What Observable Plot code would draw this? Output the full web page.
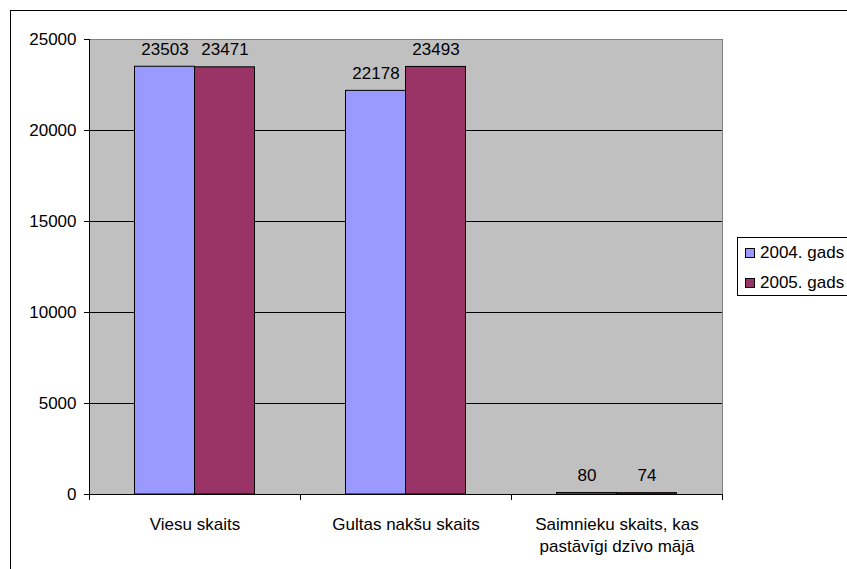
<!DOCTYPE html>
<html>
<head>
<meta charset="utf-8">
<script src="https://cdn.jsdelivr.net/npm/d3@7"></script>
<script src="https://cdn.jsdelivr.net/npm/@observablehq/plot@0.6"></script>
<style>
  html, body { margin: 0; padding: 0; background: #fff; overflow: hidden; }
  #wrap { position: relative; width: 847px; height: 569px; overflow: hidden; font-family: "Liberation Sans", Arial, sans-serif; }
  #frame { position: absolute; left: 10px; top: 10px; width: 900px; height: 700px; border: 1px solid #000; box-sizing: border-box; }
  #chart { position: absolute; left: 0; top: 0; }
  #legend { position: absolute; left: 737px; top: 237px; width: 130px; height: 59px; border: 1px solid #000; background: #fff; box-sizing: border-box; font-size: 17px; }
  .row { position: absolute; left: 7px; display: flex; align-items: center; white-space: nowrap; }
  .sw { width: 8px; height: 8px; border: 1px solid #000; margin-right: 5px; }
</style>
</head>
<body>
<div id="wrap">
  <div id="frame"></div>
  <div id="chart"></div>
  <div id="legend"></div>
</div>
<script>
const categories = ["Viesu skaits", "Gultas nakšu skaits", "Saimnieku skaits, kas\npastāvīgi dzīvo mājā"];
const series = ["2004. gads", "2005. gads"];
const values2004 = [23503, 22178, 80];
const values2005 = [23471, 23493, 74];
const colors = ["#9999FF", "#993366"];
const yTicks = [0, 5000, 10000, 15000, 20000, 25000];

const rows = [];
categories.forEach((c, i) => {
  rows.push({i, s: 0, value: values2004[i]});
  rows.push({i, s: 1, value: values2005[i]});
});
const w = 60 / 211;
const x1 = d => d.i + (d.s === 0 ? -w : 0);
const x2 = d => d.i + (d.s === 0 ? 0 : w);
const xc = d => d.i + (d.s === 0 ? -w / 2 : w / 2);

const chart = Plot.plot({
  width: 847,
  height: 569,
  marginLeft: 89,
  marginRight: 125,
  marginTop: 39,
  marginBottom: 75,
  x: {type: "linear", domain: [-0.5, 2.5]},
  y: {domain: [0, 25000]},
  style: {fontFamily: "'Liberation Sans', Arial, sans-serif", fontSize: "17px", background: "transparent", color: "#000", overflow: "visible"},
  marks: [
    Plot.frame({fill: "#C0C0C0", stroke: "#808080"}),
    Plot.gridY([5000, 10000, 15000, 20000], {stroke: "#000", strokeOpacity: 1}),
    Plot.rect(rows, {x1, x2, y1: 0, y2: "value", fill: d => colors[d.s], stroke: "#000", strokeWidth: 1}),
    Plot.text(rows, {x: xc, y: "value", text: d => String(d.value), dy: -12, lineAnchor: "bottom", fontSize: 17}),
    Plot.ruleX([-0.5], {stroke: "#000"}),
    Plot.ruleY([0], {stroke: "#000"}),
    Plot.axisY(yTicks, {tickSize: 5, tickPadding: 8, fontSize: 17, label: null, stroke: "#000", tickFormat: d => String(d)}),
    Plot.axisX([-0.5, 0.5, 1.5, 2.5], {tickSize: 6, tickFormat: () => "", label: null, stroke: "#000"}),
    Plot.axisX([0, 1, 2], {tickSize: 0, tickPadding: 21, tickFormat: i => categories[i], lineHeight: 1.24, fontSize: 17, label: null})
  ]
});
document.getElementById("chart").appendChild(chart);

const legend = document.getElementById("legend");
series.forEach((s, k) => {
  const r = document.createElement("div");
  r.className = "row";
  r.style.top = (5 + k * 30) + "px";
  r.innerHTML = `<div class="sw" style="background:${colors[k]}"></div><span>${s}</span>`;
  legend.appendChild(r);
});
</script>
</body>
</html>
